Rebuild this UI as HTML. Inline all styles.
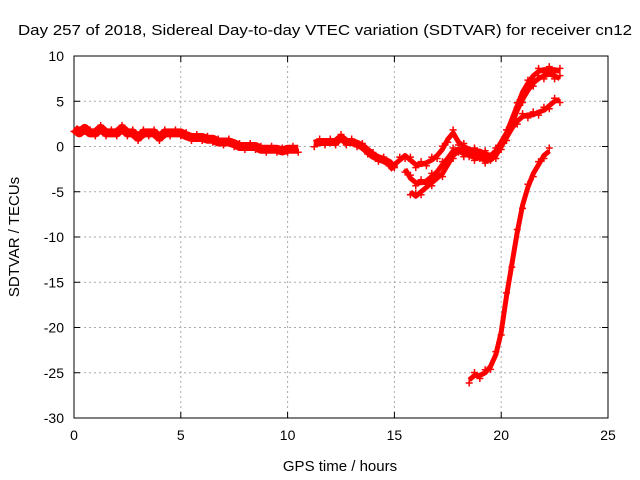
<!DOCTYPE html>
<html><head><meta charset="utf-8"><style>
body{margin:0;background:#fff;}
svg{display:block;font-family:"Liberation Sans",sans-serif;}
</style></head><body>
<svg id="chart" width="640" height="480">
<text x="325" y="35" font-size="15" text-anchor="middle" textLength="614" lengthAdjust="spacingAndGlyphs">Day 257 of 2018, Sidereal Day-to-day VTEC variation (SDTVAR) for receiver cn12</text>
<text x="340" y="471" font-size="15" text-anchor="middle">GPS time / hours</text>
<text transform="translate(19,237) rotate(-90)" font-size="15" text-anchor="middle">SDTVAR / TECUs</text>
<g id="grid"></g>
<g id="axes"></g>
<g id="marks"></g>
</svg>
<script>
const xTicks=[0,5,10,15,20,25];
const yTicks=[10,5,0,-5,-10,-15,-20,-25,-30];
const mainTimes=[0,0.25,0.5,0.75,1,1.25,1.5,1.75,2,2.25,2.5,2.75,3,3.25,3.5,3.75,4,4.25,4.5,4.75,5,5.25,5.5,5.75,6,6.25,6.5,6.75,7,7.25,7.5,7.75,8,8.25,8.5,8.75,9,9.25,9.5,9.75,10,10.25,10.5];
const mainValues=[2,1.5,2,1.5,1.5,2,1.5,1.5,1.5,2,1.5,1.5,1,1.5,1.5,1.5,1,1.5,1.5,1.5,1.5,1.2,1,1,1,0.8,0.8,0.5,0.5,0.5,0.3,0,0,0,0,-0.3,-0.3,-0.3,-0.3,-0.5,-0.3,-0.3,-0.3];
const midTimes=[11.25,11.5,11.75,12,12.25,12.5,12.75,13,13.25,13.5,13.75,14,14.25,14.5,14.75,15];
const midValues=[0.3,0.5,0.5,0.5,0.5,1,0.5,0.5,0.3,0,-0.5,-1,-1.3,-1.5,-1.8,-2.5];
const b1Times=[15,15.25,15.5,15.75,16,16.25,16.5,16.75,17,17.25,17.5,17.75,18,18.25,18.5,18.75,19,19.25,19.5,19.75,20,20.25,20.5,20.75,21,21.25,21.5,21.75,22,22.25,22.5,22.75];
const b1Values=[-2,-1.5,-1,-1.5,-2,-2,-1.8,-1.5,-1,-0.3,0.8,1.5,0.5,0,-0.3,-0.5,-0.5,-0.8,-1,-0.5,0.5,1.5,3,4.5,6,7,7.8,8.3,8.5,8.5,8.5,8.3];
const b2Times=[15.5,15.75,16,16.25,16.5,16.75,17,17.25,17.5,17.75,18,18.25,18.5,18.75,19,19.25,19.5,19.75,20,20.25,20.5,20.75,21,21.25,21.5,21.75,22,22.25,22.5,22.75];
const b2Values=[-2.5,-3.5,-4,-4,-3.8,-3.3,-2.8,-2,-1.3,-0.5,-0.3,-0.5,-0.8,-1,-1,-1.2,-1.2,-0.8,0,1,2.5,4,5.2,6.2,7,7.5,7.8,8,7.8,7.5];
const b3Times=[15.75,16,16.25,16.5,16.75,17,17.25,17.5,17.75,18,18.25,18.5,18.75,19,19.25,19.5,19.75,20,20.25,20.5,20.75,21,21.25,21.5,21.75,22,22.25,22.5,22.75];
const b3Values=[-5,-5.5,-5,-4.5,-4,-3.5,-3,-2,-1,-0.5,-0.8,-1,-1.2,-1.3,-1.5,-1.5,-1,0,1,2,2.8,3.3,3.5,3.5,3.8,4,4.5,5,5.2];
const b4Times=[18.5,18.75,19,19.25,19.5,19.75,20,20.25,20.5,20.75,21,21.25,21.5,21.75,22,22.25];
const b4Values=[-25.8,-25.3,-25.3,-25,-24.3,-23,-20.5,-16.5,-13,-9.5,-6.5,-4.5,-3,-2,-1,-0.5];

const X0=74,X1=608,Y0=418,Y1=56;
const xs=v=>X0+(v-0)/25*(X1-X0);
const ys=v=>Y0-(v+30)/40*(Y0-Y1);
const NS='http://www.w3.org/2000/svg';
const grid=document.getElementById('grid'),axes=document.getElementById('axes'),marks=document.getElementById('marks');
function mk(tag,attrs,parent){const e=document.createElementNS(NS,tag);for(const k in attrs)e.setAttribute(k,attrs[k]);parent.appendChild(e);return e;}
xTicks.forEach(t=>{
 const x=xs(t);
 if(t>0&&t<25){const g=mk('line',{x1:x,x2:x,y1:Y1,y2:Y0,stroke:'#aaa','stroke-dasharray':'2,3','stroke-width':1},grid);
 
 }
 const l=mk('text',{x:x,y:Y0+22,'font-size':14,'text-anchor':'middle'},axes);l.textContent=t;
 
 
 mk('line',{x1:x,x2:x,y1:Y0,y2:Y0-6,stroke:'#000'},axes);
 mk('line',{x1:x,x2:x,y1:Y1,y2:Y1+6,stroke:'#000'},axes);
});
yTicks.forEach(t=>{
 const y=ys(t);
 if(t>-30&&t<10){const g=mk('line',{x1:X0,x2:X1,y1:y,y2:y,stroke:'#aaa','stroke-dasharray':'2,3','stroke-width':1},grid);
 
 }
 const l=mk('text',{x:X0-10,y:y+5,'font-size':14,'text-anchor':'end'},axes);l.textContent=t;
 
 
 mk('line',{x1:X0,x2:X0+6,y1:y,y2:y,stroke:'#000'},axes);
 mk('line',{x1:X1,x2:X1-6,y1:y,y2:y,stroke:'#000'},axes);
});
const fr=mk('rect',{x:X0,y:Y1,width:X1-X0,height:Y0-Y1,fill:'none',stroke:'#000'},axes);


function series(ts,vs,name,w){
 const g=mk('g',{},marks);
 
 
 const pts=ts.map((t,i)=>xs(t)+','+ys(vs[i])).join(' ');
 mk('polyline',{points:pts,fill:'none',stroke:'#f00','stroke-width':w,'stroke-linejoin':'round'},g);
 ts.forEach((t,i)=>{
  const x=xs(t),y=ys(vs[i])+(i%2?-3:3);
  const p=mk('path',{d:`M${x-3.5},${y}h7M${x},${y-3.5}v7`,stroke:'#f00','stroke-width':1.5},g);
  
  
 });
}
series(mainTimes,mainValues,'series-main',9);
series(midTimes,midValues,'series-mid',8);
series(b1Times,b1Values,'series-branch-1',5);
series(b2Times,b2Values,'series-branch-2',5);
series(b3Times,b3Values,'series-branch-3',5);
series(b4Times,b4Values,'series-branch-4',5);
</script>
</body></html>
